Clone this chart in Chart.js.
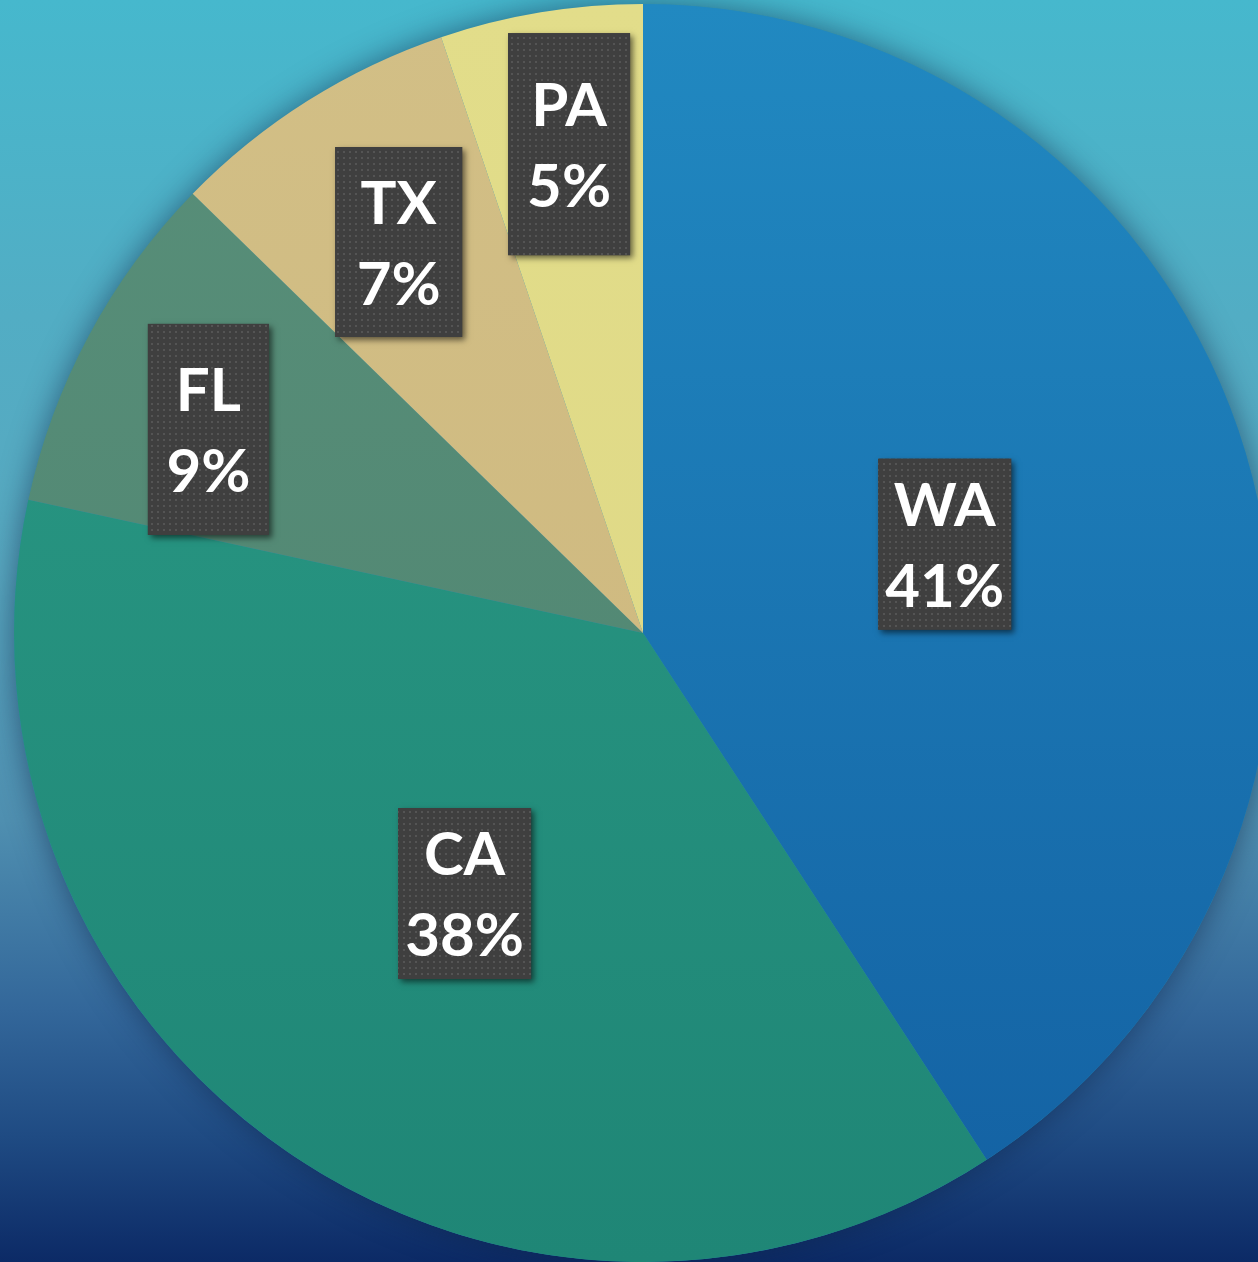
<!DOCTYPE html>
<html>
<head>
<meta charset="utf-8">
<script src="https://cdn.jsdelivr.net/npm/chart.js@4.4.1/dist/chart.umd.min.js"></script>
<style>
  html, body { margin: 0; padding: 0; width: 1258px; height: 1262px; overflow: hidden; }
  body {
    background: linear-gradient(to bottom, #46b8cd 0%, #52adc4 25%, #58a8c0 45%, #4f8fb0 65%, #33679a 80%, #1f4b83 90%, #0c2a66 100%);
    position: relative;
  }
  #wrap { position: absolute; left: 0; top: 0; width: 1286px; height: 1266px; }
</style>
</head>
<body>
<div id="wrap"><canvas id="c" width="1286" height="1266"></canvas></div>
<script>
// ---- data ----
const categories = ["WA", "CA", "FL", "TX", "PA"];
const shares = [40.8, 37.6, 8.9, 7.5, 5.2];
const percentLabels = ["41%", "38%", "9%", "7%", "5%"];

// ---- style ----
const topColors = ["#2189c1", "#2b9b86", "#588f79", "#d2bf86", "#e2dd8a"];
const bottomColors = ["#1360a2", "#1f8676", "#4e8370", "#cdb67c", "#ddd684"];
const labelRadiusFrac = [0.50, 0.502, 0.763, 0.733, 0.786];
const labelAngleOffsetDeg = [0.16, -0.16, -3.16, 0.22, 0.76];
const boxW = [133, 133, 121, 127, 122];
const boxH = [171, 171, 211, 190, 222];

function makeDotPattern(ctx) {
  const p = document.createElement('canvas');
  p.width = 6; p.height = 6;
  const pc = p.getContext('2d');
  pc.fillStyle = '#3f3f3f';
  pc.fillRect(0, 0, 6, 6);
  pc.fillStyle = '#545454';
  pc.fillRect(1, 1, 2, 2);
  return ctx.createPattern(p, 'repeat');
}

const pieShadow = {
  id: 'pieShadow',
  beforeDatasetsDraw(chart) {
    const arc = chart.getDatasetMeta(0).data[0];
    if (!arc) return;
    const ctx = chart.ctx;
    ctx.save();
    ctx.shadowColor = 'rgba(15, 35, 70, 0.55)';
    ctx.shadowBlur = 30;
    ctx.fillStyle = '#2a8ab0';
    ctx.beginPath();
    ctx.arc(arc.x, arc.y, arc.outerRadius, 0, Math.PI * 2);
    ctx.fill();
    ctx.restore();
  }
};

const boxLabels = {
  id: 'boxLabels',
  afterDatasetsDraw(chart) {
    const ctx = chart.ctx;
    const meta = chart.getDatasetMeta(0);
    const pattern = makeDotPattern(ctx);
    meta.data.forEach((arc, i) => {
      const mid = (arc.startAngle + arc.endAngle) / 2 + labelAngleOffsetDeg[i] * Math.PI / 180;
      const r = arc.outerRadius * labelRadiusFrac[i];
      const cx = arc.x + Math.cos(mid) * r;
      const cy = arc.y + Math.sin(mid) * r;
      const w = boxW[i], h = boxH[i];
      ctx.save();
      ctx.shadowColor = 'rgba(0,0,0,0.55)';
      ctx.shadowBlur = 6;
      ctx.shadowOffsetX = 3;
      ctx.shadowOffsetY = 3;
      ctx.fillStyle = '#3f3f3f';
      ctx.fillRect(cx - w / 2, cy - h / 2, w, h);
      ctx.restore();
      ctx.save();
      ctx.fillStyle = pattern;
      ctx.fillRect(cx - w / 2, cy - h / 2, w, h);
      ctx.fillStyle = '#ffffff';
      ctx.font = 'bold 60px Lato, "Open Sans", sans-serif';
      ctx.textAlign = 'center';
      ctx.textBaseline = 'alphabetic';
      ctx.fillText(categories[i], cx, cy - 40 + 21.5);
      ctx.fillText(percentLabels[i], cx, cy + 41 + 21.5);
      ctx.restore();
    });
  }
};

new Chart(document.getElementById('c'), {
  type: 'pie',
  data: {
    labels: categories,
    datasets: [{
      data: shares,
      clip: false,
      borderWidth: 0,
      backgroundColor: (c) => {
        const chart = c.chart;
        const area = chart.chartArea;
        if (!area) return topColors[c.dataIndex];
        const g = chart.ctx.createLinearGradient(0, area.top, 0, area.bottom);
        g.addColorStop(0, topColors[c.dataIndex]);
        g.addColorStop(1, bottomColors[c.dataIndex]);
        return g;
      }
    }]
  },
  options: {
    responsive: false,
    animation: false,
    layout: { padding: { top: 4, bottom: 4, left: 14, right: 14 } },
    plugins: {
      legend: { display: false },
      tooltip: { enabled: false }
    }
  },
  plugins: [pieShadow, boxLabels]
});
</script>
</body>
</html>
